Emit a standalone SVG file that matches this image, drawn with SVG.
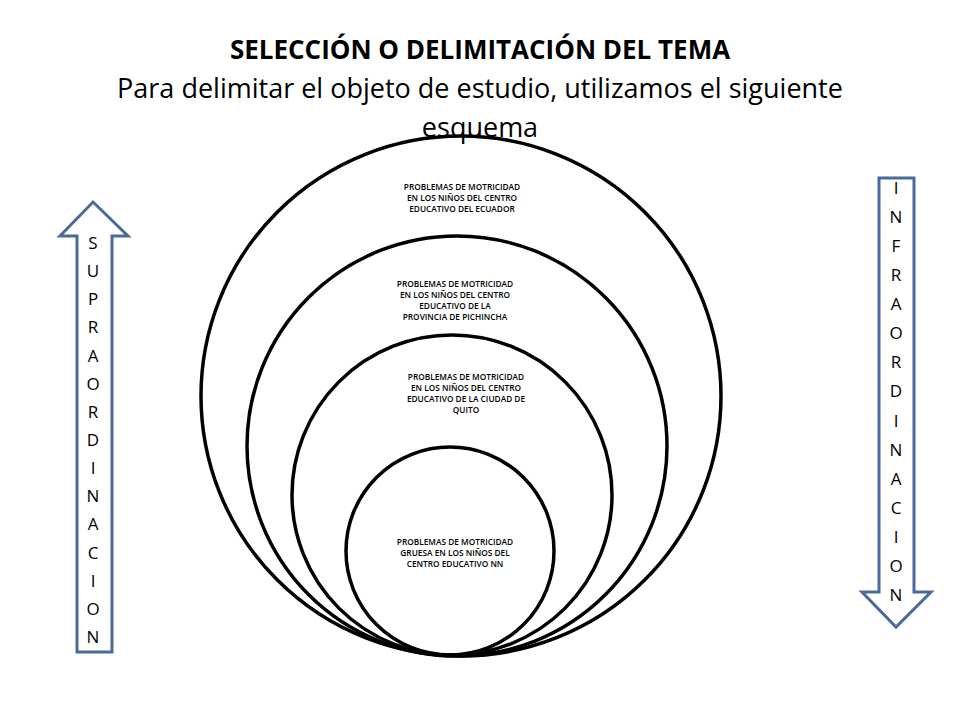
<svg xmlns="http://www.w3.org/2000/svg" width="960" height="720" viewBox="0 0 960 720">
<style>
.c{fill:none;stroke:#000;stroke-width:3.5}
.a{fill:#fff;stroke:#4a6a9a;stroke-width:3}
.l{font-family:"Open Sans","Liberation Sans",sans-serif;font-size:17px;fill:#000;text-anchor:middle}
.t{font-family:"Open Sans","Liberation Sans",sans-serif;font-size:8.3px;font-weight:600;fill:#000;text-anchor:middle}
</style>
<rect width="960" height="720" fill="#fff"/>
<g id="title" font-family="'Open Sans','Liberation Sans',sans-serif" text-anchor="middle">
<text x="480" y="59" font-size="26" font-weight="bold">SELECCIÓN O DELIMITACIÓN DEL TEMA</text>
<text x="480" y="98" font-size="27">Para delimitar el objeto de estudio, utilizamos el siguiente</text>
<text x="480" y="137" font-size="27">esquema</text>
</g>
<g id="c1"><circle class="c" cx="461" cy="396" r="260"/>
<text class="t" x="462" y="190">PROBLEMAS DE MOTRICIDAD</text><text class="t" x="462" y="201">EN LOS NIÑOS DEL CENTRO</text><text class="t" x="462" y="212">EDUCATIVO DEL ECUADOR</text></g>
<g id="c2"><circle class="c" cx="457" cy="446" r="210"/>
<text class="t" x="455" y="287">PROBLEMAS DE MOTRICIDAD</text><text class="t" x="455" y="298">EN LOS NIÑOS DEL CENTRO</text><text class="t" x="455" y="309">EDUCATIVO  DE LA</text><text class="t" x="455" y="320">PROVINCIA DE PICHINCHA</text></g>
<g id="c3"><circle class="c" cx="452" cy="495" r="160"/>
<text class="t" x="466" y="380">PROBLEMAS DE MOTRICIDAD</text><text class="t" x="466" y="391">EN LOS NIÑOS DEL CENTRO</text><text class="t" x="466" y="402">EDUCATIVO DE LA CIUDAD DE</text><text class="t" x="466" y="413">QUITO</text></g>
<g id="c4"><circle class="c" cx="450" cy="551" r="104"/>
<text class="t" x="455" y="545">PROBLEMAS DE MOTRICIDAD</text><text class="t" x="455" y="556">GRUESA EN LOS NIÑOS DEL</text><text class="t" x="455" y="567">CENTRO EDUCATIVO NN</text></g>
<g id="supra"><polygon class="a" points="93,202 128,236 112,236 112,652 77,652 77,236 60,236"/>
<g class="l">
<text x="93" y="249">S</text><text x="93" y="277">U</text><text x="93" y="305">P</text><text x="93" y="333">R</text><text x="93" y="362">A</text><text x="93" y="390">O</text><text x="93" y="418">R</text><text x="93" y="446">D</text><text x="93" y="474">I</text><text x="93" y="502">N</text><text x="93" y="530">A</text><text x="93" y="559">C</text><text x="93" y="587">I</text><text x="93" y="615">O</text><text x="93" y="643">N</text>
</g></g>
<g id="infra"><polygon class="a" points="879,178 914,178 914,592 931,592 896,627 862,592 879,592"/>
<g class="l">
<text x="896" y="194">I</text><text x="896" y="223">N</text><text x="896" y="252">F</text><text x="896" y="281">R</text><text x="896" y="310">A</text><text x="896" y="339">O</text><text x="896" y="368">R</text><text x="896" y="397">D</text><text x="896" y="427">I</text><text x="896" y="456">N</text><text x="896" y="485">A</text><text x="896" y="514">C</text><text x="896" y="543">I</text><text x="896" y="572">O</text><text x="896" y="601">N</text>
</g></g>
</svg>
